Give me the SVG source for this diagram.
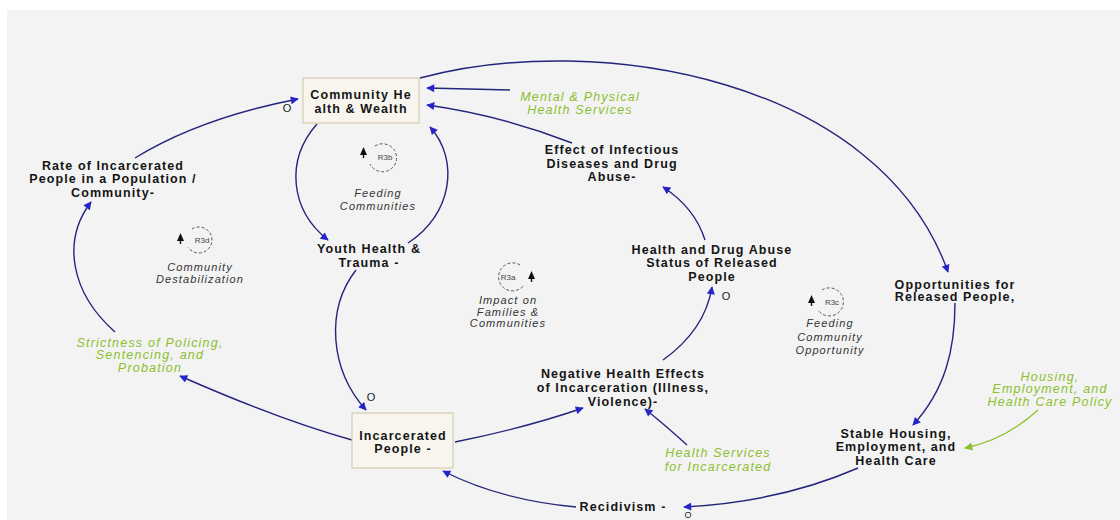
<svg xmlns="http://www.w3.org/2000/svg" width="1120" height="520" viewBox="0 0 1120 520">
<style>
.n{font-family:"Liberation Sans",Arial,sans-serif;font-weight:bold;font-size:12.5px;letter-spacing:1.1px;fill:#151515;text-anchor:middle}
.g{font-family:"Liberation Sans",Arial,sans-serif;font-style:italic;font-size:12.5px;letter-spacing:1.2px;fill:#8cbf2e;text-anchor:middle}
.l{font-family:"Liberation Sans",Arial,sans-serif;font-style:italic;font-size:11px;letter-spacing:1.1px;fill:#333;text-anchor:middle}
.r{font-family:"Liberation Sans",Arial,sans-serif;font-size:8px;fill:#444;text-anchor:middle}
.p{font-family:"Liberation Sans",Arial,sans-serif;font-size:11px;fill:#222;text-anchor:middle}
.c{fill:none;stroke:#24247c;stroke-width:1.4}
.cg{fill:none;stroke:#8cbf2e;stroke-width:1.3}
.box{fill:#f7f5ee;stroke:#d6cbb0;stroke-width:1.2}
.lc{fill:none;stroke:#555;stroke-width:1;stroke-dasharray:3 2}
.tri{fill:#111}
</style>
<defs>
<marker id="a" viewBox="0 0 10 10" refX="9" refY="5" markerWidth="10" markerHeight="8" markerUnits="userSpaceOnUse" orient="auto"><path d="M0,0 L10,5 L0,10 z" fill="#2424c8"/></marker>
<marker id="ag" viewBox="0 0 10 10" refX="9" refY="5" markerWidth="10" markerHeight="8" markerUnits="userSpaceOnUse" orient="auto"><path d="M0,0 L10,5 L0,10 z" fill="#8cbf2e"/></marker>
</defs>
<rect x="0" y="0" width="1120" height="520" fill="#ffffff"/>
<rect x="7" y="10" width="1113" height="510" fill="#f3f3f3"/>

<g id="connectors">
<path class="c" d="M135,158 Q200,118 298,99" marker-end="url(#a)"/>
<path class="c" d="M115,332 C70,292 62,240 91,202" marker-end="url(#a)"/>
<path class="c" d="M352,440 Q280,420 180,376" marker-end="url(#a)"/>
<path class="c" d="M317,124 C285,160 290,210 328,240" marker-end="url(#a)"/>
<path class="c" d="M408,243 C452,215 460,160 430,127" marker-end="url(#a)"/>
<path class="c" d="M356,270 C325,310 330,370 366,410" marker-end="url(#a)"/>
<path class="c" d="M455,442 Q525,428 583,408" marker-end="url(#a)"/>
<path class="c" d="M687,445 Q665,425 645,409" marker-end="url(#a)"/>
<path class="c" d="M663,360 Q705,330 712,287" marker-end="url(#a)"/>
<path class="c" d="M705,240 Q695,208 663,187" marker-end="url(#a)"/>
<path class="c" d="M572,143 Q500,115 427,105" marker-end="url(#a)"/>
<path class="c" d="M510,90 L427,88" marker-end="url(#a)"/>
<path class="c" d="M420,78 C600,30 880,80 948,272" marker-end="url(#a)"/>
<path class="c" d="M955,303 C955,350 945,390 913,425" marker-end="url(#a)"/>
<path class="cg" d="M1038,410 Q1005,440 965,448" marker-end="url(#ag)"/>
<path class="c" d="M858,468 Q780,502 684,507" marker-end="url(#a)"/>
<path class="c" d="M576,507 Q500,500 443,471" marker-end="url(#a)"/>
<text class="p" x="287" y="112">O</text>
<text class="p" x="371" y="401">O</text>
<text class="p" x="726" y="300">O</text>
<text class="p" x="688" y="518" style="font-size:9px">O</text>
</g>

<g id="community-health">
<rect class="box" x="303" y="78" width="116" height="45"/>
<text class="n" x="361" y="99">Community He</text>
<text class="n" x="361" y="113">alth &amp; Wealth</text>
</g>
<g id="mental-physical">
<text class="g" x="580" y="101">Mental &amp; Physical</text>
<text class="g" x="580" y="114">Health Services</text>
</g>
<g id="effect-infectious">
<text class="n" x="612" y="154">Effect of Infectious</text>
<text class="n" x="612" y="168">Diseases and Drug</text>
<text class="n" x="612" y="181">Abuse-</text>
</g>
<g id="rate-incarcerated">
<text class="n" x="113" y="170">Rate of Incarcerated</text>
<text class="n" x="113" y="183">People in a Population /</text>
<text class="n" x="113" y="197">Community-</text>
</g>
<g id="youth-health">
<text class="n" x="369" y="253">Youth Health &amp;</text>
<text class="n" x="369" y="267">Trauma -</text>
</g>
<g id="health-drug-status">
<text class="n" x="712" y="254">Health and Drug Abuse</text>
<text class="n" x="712" y="267">Status of Released</text>
<text class="n" x="712" y="281">People</text>
</g>
<g id="opportunities">
<text class="n" x="955" y="289">Opportunities for</text>
<text class="n" x="955" y="301">Released People,</text>
</g>
<g id="strictness">
<text class="g" x="150" y="347">Strictness of Policing,</text>
<text class="g" x="150" y="359">Sentencing, and</text>
<text class="g" x="150" y="372">Probation</text>
</g>
<g id="negative-health">
<text class="n" x="623" y="378">Negative Health Effects</text>
<text class="n" x="623" y="392">of Incarceration (Illness,</text>
<text class="n" x="623" y="406">Violence)-</text>
</g>
<g id="incarcerated-people">
<rect class="box" x="352" y="413" width="101" height="55"/>
<text class="n" x="403" y="440">Incarcerated</text>
<text class="n" x="403" y="453">People -</text>
</g>
<g id="health-services-incarcerated">
<text class="g" x="718" y="457">Health Services</text>
<text class="g" x="718" y="471">for Incarcerated</text>
</g>
<g id="housing-policy">
<text class="g" x="1050" y="381">Housing,</text>
<text class="g" x="1050" y="393">Employment, and</text>
<text class="g" x="1050" y="406">Health Care Policy</text>
</g>
<g id="stable-housing">
<text class="n" x="896" y="438">Stable Housing,</text>
<text class="n" x="896" y="451">Employment, and</text>
<text class="n" x="896" y="465">Health Care</text>
</g>
<g id="recidivism">
<text class="n" x="623" y="511">Recidivism -</text>
</g>

<g id="loop-r3b">
<path class="lc" d="M375,146 A14,14 0 1 1 370,164"/>
<path class="tri" d="M360,155 L367,155 L363.5,147 z"/><rect class="tri" x="362.8" y="154" width="1.4" height="4"/>
<text class="r" x="385" y="160">R3b</text>
<text class="l" x="378" y="197">Feeding</text>
<text class="l" x="378" y="210">Communities</text>
</g>
<g id="loop-r3d">
<path class="lc" d="M192,229 A13,13 0 1 1 188,247"/>
<path class="tri" d="M177,241 L184,241 L180.5,233 z"/><rect class="tri" x="179.8" y="240" width="1.4" height="4"/>
<text class="r" x="202" y="243">R3d</text>
<text class="l" x="200" y="271">Community</text>
<text class="l" x="200" y="283">Destabilization</text>
</g>
<g id="loop-r3a">
<path class="lc" d="M520,265 A14,14 0 1 0 524,285"/>
<path class="tri" d="M528,279 L535,279 L531.5,271 z"/><rect class="tri" x="530.8" y="278" width="1.4" height="4"/>
<text class="r" x="508" y="280">R3a</text>
<text class="l" x="508" y="304">Impact on</text>
<text class="l" x="508" y="316">Families &amp;</text>
<text class="l" x="508" y="327">Communities</text>
</g>
<g id="loop-r3c">
<path class="lc" d="M822,290 A14,14 0 1 1 818,310"/>
<path class="tri" d="M808,303 L815,303 L811.5,295 z"/><rect class="tri" x="810.8" y="302" width="1.4" height="4"/>
<text class="r" x="832" y="305">R3c</text>
<text class="l" x="830" y="327">Feeding</text>
<text class="l" x="830" y="341">Community</text>
<text class="l" x="830" y="354">Opportunity</text>
</g>
</svg>
